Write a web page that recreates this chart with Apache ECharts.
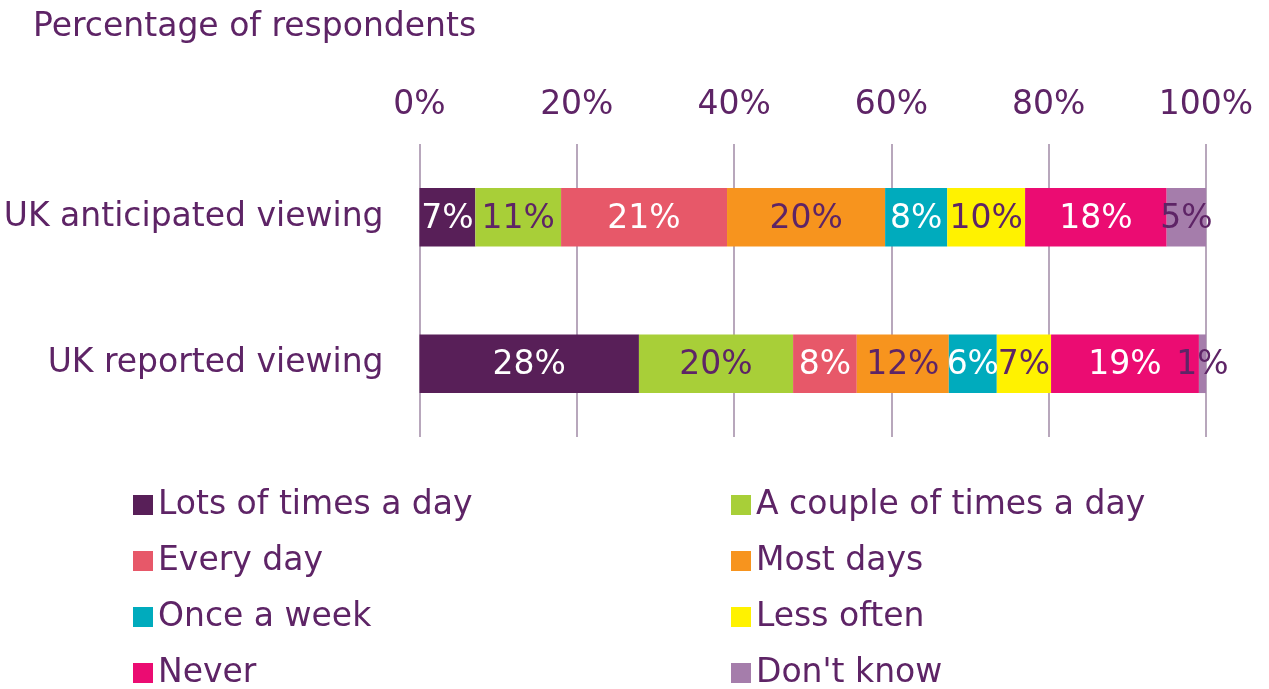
<!DOCTYPE html>
<html>
<head>
<meta charset="utf-8">
<title>Viewing frequency</title>
<script src="https://cdn.jsdelivr.net/npm/echarts@6/dist/echarts.min.js"></script>
<style>
  html, body { margin: 0; padding: 0; background: #ffffff; }
  #chart { width: 1269px; height: 689px; }
</style>
</head>
<body>
<div id="chart"></div>
<script>
// Rows of the chart (top to bottom)
const categories = ['UK anticipated viewing', 'UK reported viewing'];

// Response options, in stacking order
const seriesNames = [
  'Lots of times a day', 'A couple of times a day', 'Every day', 'Most days',
  'Once a week', 'Less often', 'Never', "Don't know"
];

// Share of respondents (%) per option: [anticipated, reported]
const lotsOfTimes   = [7.1, 27.9];
const coupleOfTimes = [10.9, 19.6];
const everyDay      = [21.1, 8.1];
const mostDays      = [20.1, 11.7];
const onceAWeek     = [7.9, 6.1];
const lessOften     = [9.9, 6.9];
const never         = [18.0, 18.8];
const dontKnow      = [5.0, 0.9];

// Axis tick labels
const tickValues = [0, 20, 40, 60, 80, 100];

const seriesValues = [lotsOfTimes, coupleOfTimes, everyDay, mostDays, onceAWeek, lessOften, never, dontKnow];
const colors = ['#581f58', '#a8cf38', '#e75869', '#f7941e', '#00abbd', '#fff200', '#eb0c72', '#a57dab'];
const labelColors = ['#ffffff', '#5e2466', '#ffffff', '#5e2466', '#ffffff', '#5e2466', '#ffffff', '#5e2466'];

const textColor = '#5e2466';
const fontFamily = '"DejaVu Sans", sans-serif';
const fontSize = 33;

const chart = echarts.init(document.getElementById('chart'));

const series = seriesNames.map((name, i) => ({
  name: name,
  type: 'bar',
  stack: 'total',
  barWidth: '40%',
  itemStyle: { color: colors[i] },
  label: {
    show: true,
    position: 'inside',
    color: labelColors[i],
    fontFamily: fontFamily,
    fontSize: fontSize,
    offset: [0, 2],
    formatter: p => Math.round(p.value) + '%'
  },
  emphasis: { disabled: true },
  data: seriesValues[i]
}));

const legendText = { color: textColor, fontFamily: fontFamily, fontSize: fontSize, lineHeight: 36 };

// Two legend columns of four entries each
function legendColumn(names, left) {
  return {
    data: names,
    orient: 'vertical',
    left: left,
    top: 487,
    height: 260,
    padding: 0,
    itemWidth: 20,
    itemHeight: 20,
    itemGap: 20,
    icon: 'rect',
    selectedMode: false,
    textStyle: legendText
  };
}

chart.setOption({
  animation: false,
  backgroundColor: '#ffffff',
  title: {
    text: 'Percentage of respondents',
    left: 28,
    top: 6,
    textStyle: { color: textColor, fontFamily: fontFamily, fontSize: fontSize, fontWeight: 'normal' }
  },
  legend: [
    legendColumn([seriesNames[0], seriesNames[2], seriesNames[4], seriesNames[6]], 133),
    legendColumn([seriesNames[1], seriesNames[3], seriesNames[5], seriesNames[7]], 731)
  ],
  grid: {
    left: 419.5,
    right: 63,
    top: 144,
    height: 293,
    containLabel: false
  },
  xAxis: {
    type: 'value',
    position: 'top',
    min: tickValues[0],
    max: tickValues[tickValues.length - 1],
    interval: tickValues[1] - tickValues[0],
    axisLine: { show: false },
    axisTick: { show: false },
    splitLine: { show: true, lineStyle: { color: '#a08aa6', width: 1.5 } },
    axisLabel: {
      color: textColor,
      fontFamily: fontFamily,
      fontSize: fontSize,
      margin: 22,
      formatter: v => v + '%'
    }
  },
  yAxis: {
    type: 'category',
    inverse: true,
    data: categories,
    axisLine: { show: false },
    axisTick: { show: false },
    axisLabel: {
      color: textColor,
      fontFamily: fontFamily,
      fontSize: fontSize,
      margin: 36,
      padding: [4, 0, 0, 0]
    }
  },
  series: series
});
</script>
</body>
</html>
